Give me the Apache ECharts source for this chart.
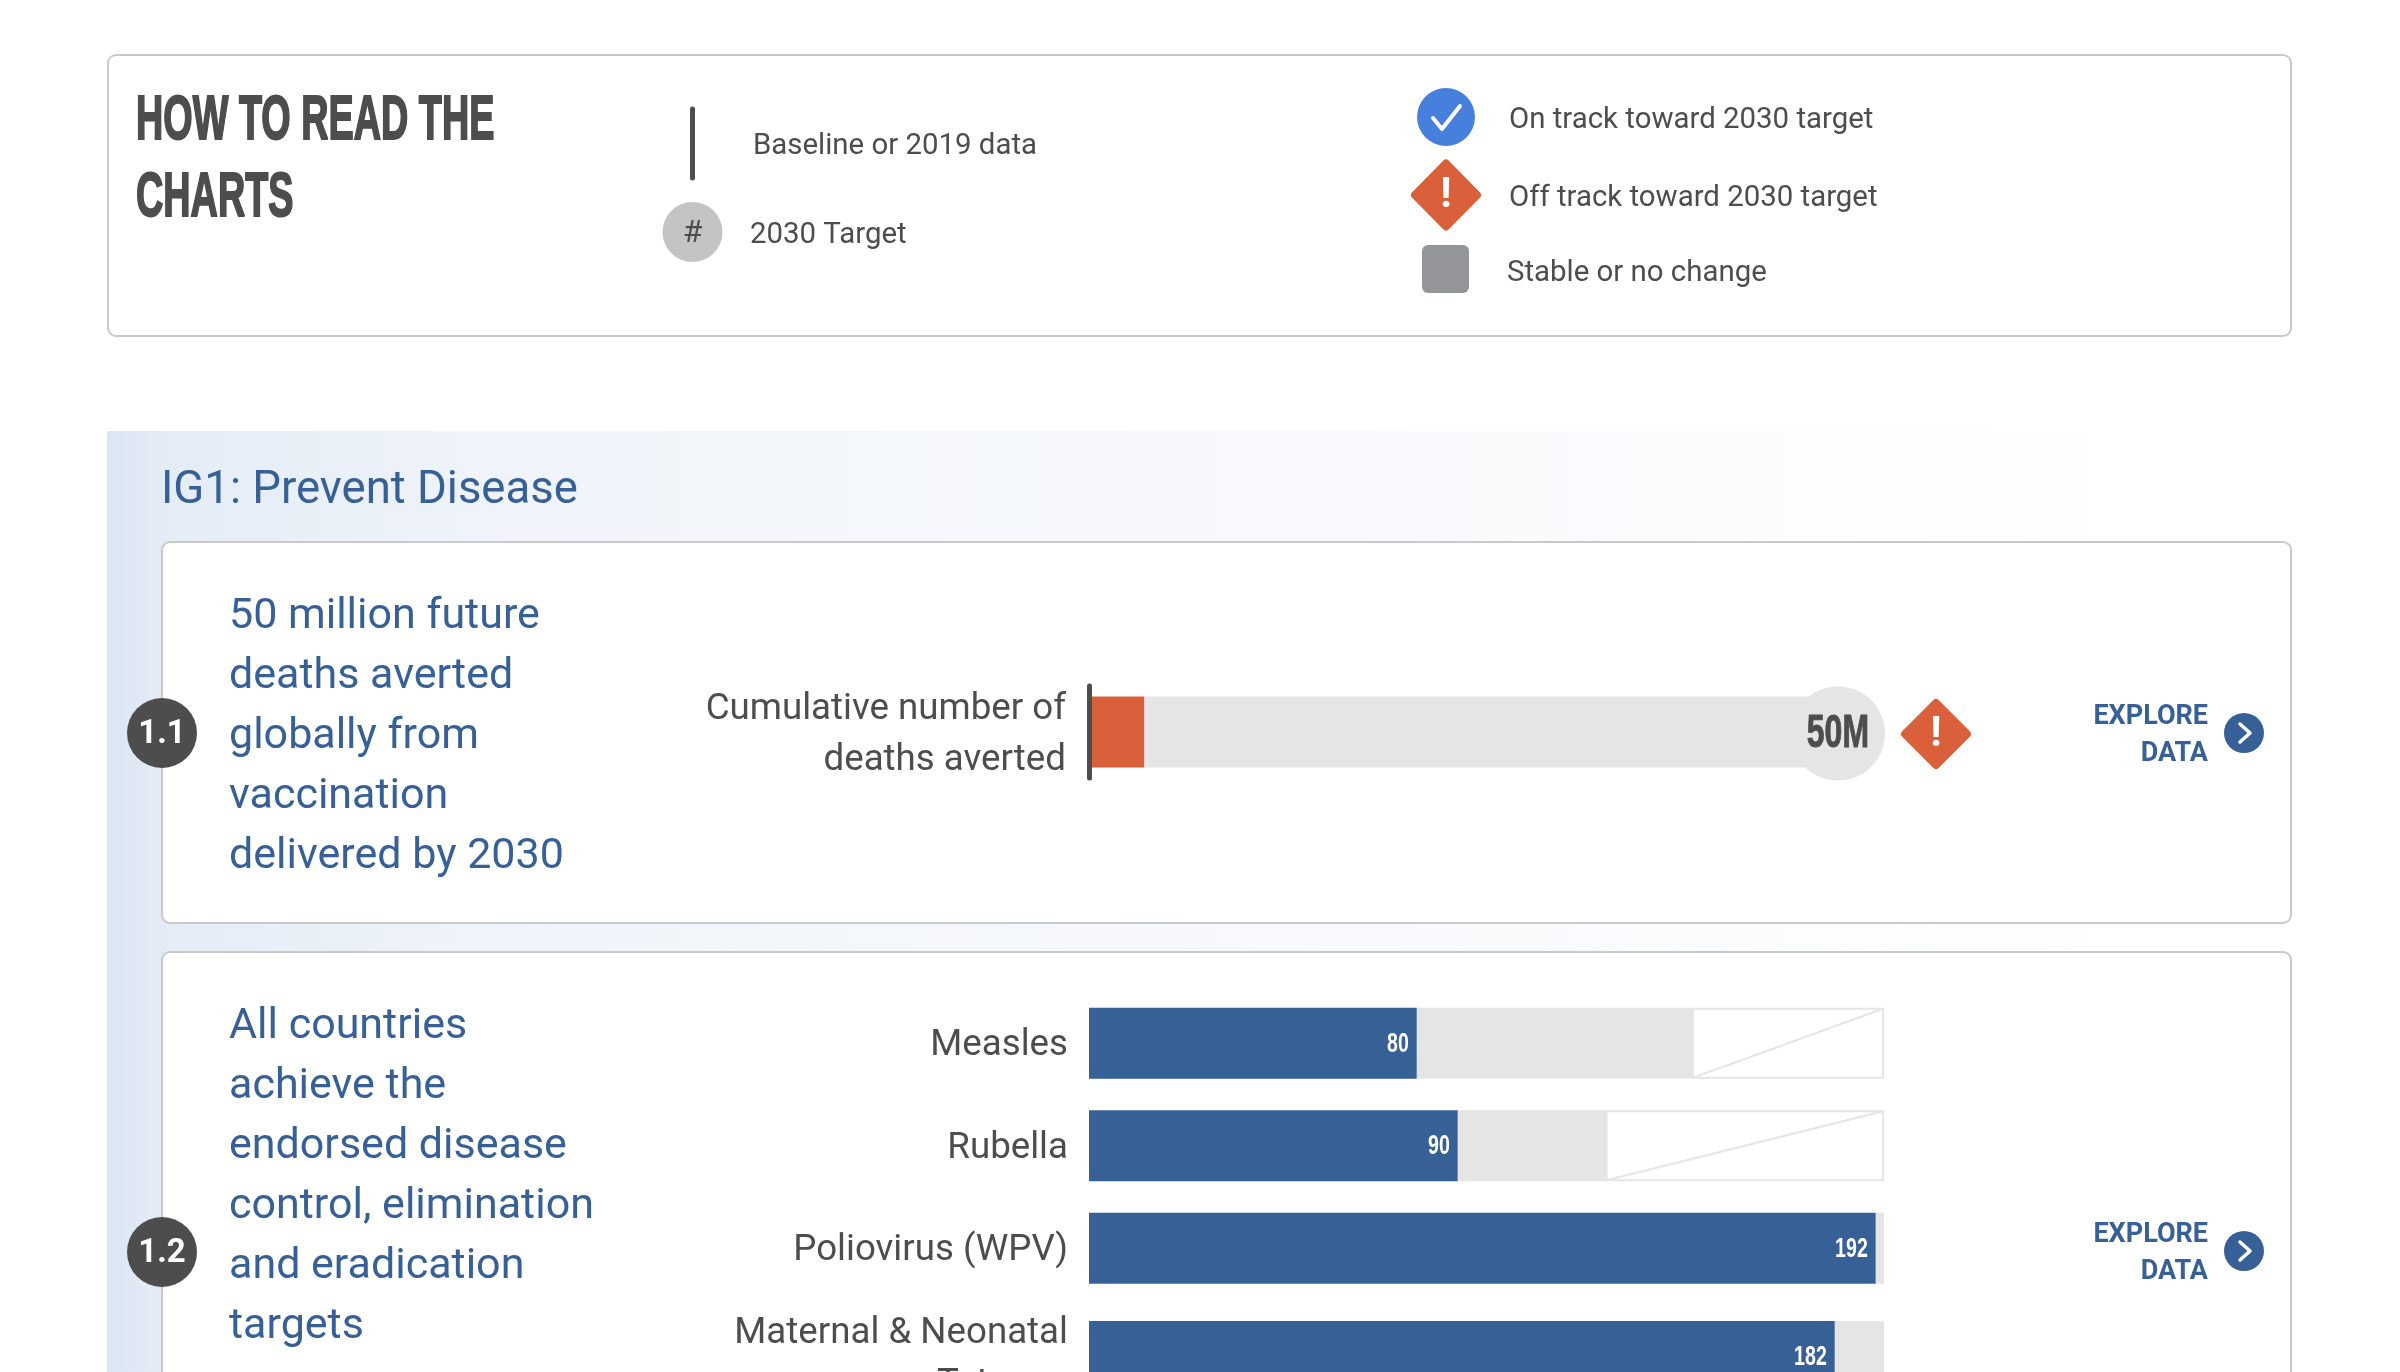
<!DOCTYPE html>
<html>
<head>
<meta charset="utf-8">
<title>How to read the charts</title>
<script src="https://cdn.jsdelivr.net/npm/echarts@6/dist/echarts.min.js"></script>
<style>
html, body { margin: 0; padding: 0; background: #fff; overflow: hidden; }
#chart { width: 2400px; height: 1372px; }
</style>
</head>
<body>
<div id="chart"></div>
<script>
// chart 1.1
var deathsLabel = ['Cumulative number of\ndeaths averted'];
var deathsAverted = [3.7];   // millions
var deathsRemaining = [46.3];
var deathsTarget = [50];
var deathsTargetLabel = ['50M'];

// chart 1.2, first three rows are evenly spaced
var diseaseNames = ['Measles', 'Rubella', 'Poliovirus (WPV)'];
var diseaseAchieved = [80, 90, 192];
var diseaseRemaining = [67.4, 36.3, 2];
var diseaseExcluded = [46.6, 67.7, 0];
// the 4th row has a two line label so it sits further down
var tetanusName = ['Maternal & Neonatal\nTetanus'];
var tetanusAchieved = [182];
var tetanusRemaining = [12];
var COUNTRY_MAX = 194;

// text blocks
var readTitle = ['HOW TO READ THE', 'CHARTS'];
var goal11 = ['50 million future', 'deaths averted', 'globally from', 'vaccination', 'delivered by 2030'];
var goal12 = ['All countries', 'achieve the', 'endorsed disease', 'control, elimination', 'and eradication', 'targets'];

var BLUE = '#366096';
var GREY = '#e5e5e5';
var DARK = '#4d4d4d';
var ORANGE = '#d9603a';
var BAR_H = 71;
var CONDENSED = '"Liberation Sans"';  // squeezed with scaleX, no condensed face installed

var chart = echarts.init(document.getElementById('chart'));

function txt(s, x, y, font, fill, align, scaleX, stroke) {
    return {
        type: 'text', x: x, y: y, scaleX: scaleX || 1, silent: true,
        style: {
            text: s, font: font, fill: fill, textAlign: align || 'left', textVerticalAlign: 'middle',
            stroke: stroke ? fill : null, lineWidth: stroke || 0
        }
    };
}
function card(x, y, w, h) {
    return {
        type: 'rect', silent: true,
        shape: { x: x, y: y, width: w, height: h, r: 8 },
        style: { fill: '#fff', stroke: '#c9c9c9', lineWidth: 2 }
    };
}
function circle(x, y, r, fill) {
    return { type: 'circle', silent: true, shape: { cx: x, cy: y, r: r }, style: { fill: fill } };
}
function diamond(x, y, w, h) {
    return [{
        type: 'polygon', silent: true,
        shape: { points: [[x, y - h], [x + w, y], [x, y + h], [x - w, y]] },
        style: { fill: ORANGE, stroke: ORANGE, lineWidth: 8, lineJoin: 'round' }
    }, txt('!', x, y + 1, 'bold 42px Roboto', '#fff', 'center')];
}
function badge(x, y, s) {
    return [circle(x, y, 35, DARK), txt(s, x, y + 2, 'bold 33px Roboto', '#fff', 'center')];
}
function explore(y) {
    return [
        txt('EXPLORE', 2208, y - 15.5, 'bold 27px Roboto', BLUE, 'right'),
        txt('DATA', 2208, y + 21.5, 'bold 27px Roboto', BLUE, 'right'),
        circle(2244, y, 20, BLUE),
        {
            type: 'polyline', silent: true,
            shape: { points: [[2240, y - 9], [2250, y], [2240, y + 9]] },
            style: { stroke: '#fff', lineWidth: 3.5, lineCap: 'round', lineJoin: 'round', fill: 'none' }
        }
    ];
}

var gfx = [];
// legend box
gfx.push(card(108, 55, 2183, 281));
gfx.push(txt(readTitle[0], 136, 122, 'bold 63px ' + CONDENSED, DARK, 'left', 0.6, 2));
gfx.push(txt(readTitle[1], 136, 199, 'bold 63px ' + CONDENSED, DARK, 'left', 0.6, 2));
gfx.push({
    type: 'line', silent: true,
    shape: { x1: 692.5, y1: 109, x2: 692.5, y2: 178 },
    style: { stroke: DARK, lineWidth: 5, lineCap: 'round' }
});
gfx.push(txt('Baseline or 2019 data', 753, 147, '29.4px Roboto', DARK));
gfx.push(circle(692.5, 232, 30, '#c4c4c4'));
gfx.push(txt('#', 692.5, 234, '32px Roboto', DARK, 'center'));
gfx.push(txt('2030 Target', 750, 236, '29.4px Roboto', DARK));
gfx.push(circle(1446, 117, 29, '#4680dc'));
gfx.push({
    type: 'polyline', silent: true,
    shape: { points: [[1433, 118], [1442, 129], [1460, 106]] },
    style: { stroke: '#fff', lineWidth: 4, lineCap: 'round', lineJoin: 'round', fill: 'none' }
});
gfx = gfx.concat(diamond(1446, 195, 31, 31.5));
gfx.push(txt('On track toward 2030 target', 1509, 121, '29.4px Roboto', DARK));
gfx.push(txt('Off track toward 2030 target', 1509, 199, '29.4px Roboto', DARK));
gfx.push({
    type: 'rect', silent: true,
    shape: { x: 1422, y: 245, width: 47, height: 48, r: 6 },
    style: { fill: '#939598' }
});
gfx.push(txt('Stable or no change', 1507, 274, '29.4px Roboto', DARK));

// IG1 section
gfx.push({
    type: 'rect', silent: true,
    shape: { x: 107, y: 431, width: 2185, height: 941 },
    style: {
        fill: new echarts.graphic.LinearGradient(0, 0, 1, 0, [
            { offset: 0, color: '#dce6f3' },
            { offset: 0.03, color: '#e4ecf6' },
            { offset: 0.18, color: '#f0f4fa' },
            { offset: 0.7, color: '#fafbfd' },
            { offset: 0.95, color: '#ffffff' }
        ])
    }
});
gfx.push(txt('IG1: Prevent Disease', 161, 492, '45.5px Roboto', BLUE));
gfx.push(card(162, 542, 2129, 381));
gfx.push(card(162, 952, 2129, 461));
goal11.forEach(function (s, i) {
    gfx.push(txt(s, 229, 617 + i * 60, '43px Roboto', BLUE));
});
goal12.forEach(function (s, i) {
    gfx.push(txt(s, 229, 1027 + i * 60, '43px Roboto', BLUE));
});
gfx = gfx.concat(badge(162, 733, '1.1'), badge(162, 1252, '1.2'));
gfx = gfx.concat(diamond(1936, 734, 31, 31));
gfx = gfx.concat(explore(733), explore(1251));

// white box with a diagonal for the part of the bar which does not apply
function renderExcluded(params, api) {
    var start = api.value(0), end = api.value(1);
    if (end <= start) { return; }
    var a = api.coord([start, api.value(2)]);
    var b = api.coord([end, api.value(2)]);
    var t = a[1] - BAR_H / 2 + 1, h = BAR_H - 2;
    return {
        type: 'group',
        children: [{
            type: 'rect',
            shape: { x: a[0], y: t, width: b[0] - a[0] - 1, height: h },
            style: { fill: '#fff', stroke: GREY, lineWidth: 2 }
        }, {
            type: 'line',
            shape: { x1: a[0], y1: t + h, x2: b[0] - 1, y2: t },
            style: { stroke: GREY, lineWidth: 2 }
        }]
    };
}

// target circle at the end of the 1.1 bar
function renderTarget(params, api) {
    var p = api.coord([api.value(0), 0]);
    return {
        type: 'group',
        children: [{
            type: 'circle',
            shape: { cx: p[0], cy: p[1] + 1.5, r: 47 },
            style: { fill: GREY }
        }, {
            type: 'text', x: p[0] + 31, y: p[1] + 2, scaleX: 0.68,
            style: {
                text: deathsTargetLabel[params.dataIndex], font: 'bold 47px ' + CONDENSED, fill: DARK,
                textAlign: 'right', textVerticalAlign: 'middle', stroke: DARK, lineWidth: 1
            }
        }]
    };
}

// white number inside the end of a blue bar
function renderValue(params, api) {
    var p = api.coord([api.value(0), api.value(1)]);
    return {
        type: 'text', x: p[0] - 8, y: p[1] + 1, scaleX: 0.7,
        style: {
            text: String(api.value(0)), font: 'bold 28px ' + CONDENSED, fill: '#fff',
            textAlign: 'right', textVerticalAlign: 'middle'
        }
    };
}

function valueAxis(grid, max) {
    return { type: 'value', gridIndex: grid, min: 0, max: max, show: false };
}
// padding only moves the text with a top/bottom anchor, so anchor at top and pull it back up
function catAxis(grid, names, margin, line, lines) {
    return {
        type: 'category', gridIndex: grid, data: names, inverse: true, z: 5,
        axisTick: { show: false },
        axisLine: line ? { show: true, lineStyle: { color: DARK, width: 5, cap: 'round' } } : { show: false },
        axisLabel: {
            margin: margin, fontFamily: 'Roboto', fontSize: 36.7, lineHeight: 51, color: DARK, align: 'right',
            verticalAlign: 'top', padding: [3 - lines * 25.5, 0, 0, 0]
        }
    };
}
function stacked(grid, values, color, stackName) {
    return {
        type: 'bar', xAxisIndex: grid, yAxisIndex: grid, stack: stackName, barWidth: BAR_H,
        data: values, itemStyle: { color: color }, silent: true
    };
}
function valueLabels(grid, values) {
    return {
        type: 'custom', xAxisIndex: grid, yAxisIndex: grid, silent: true, z: 4,
        renderItem: renderValue,
        data: values.map(function (v, i) { return [v, i]; })
    };
}

var excludedRows = diseaseExcluded.map(function (v, i) {
    var start = diseaseAchieved[i] + diseaseRemaining[i];
    return [start, start + v, i];
});

chart.setOption({
    animation: false,
    backgroundColor: '#fff',
    graphic: { elements: gfx },
    grid: [
        { left: 1089, top: 686, width: 749, height: 92, outerBoundsMode: 'none' },
        { left: 1089, top: 992, width: 795, height: 307.5, outerBoundsMode: 'none' },
        { left: 1089, top: 1321, width: 795, height: 71, outerBoundsMode: 'none' }
    ],
    xAxis: [valueAxis(0, deathsTarget[0]), valueAxis(1, COUNTRY_MAX), valueAxis(2, COUNTRY_MAX)],
    yAxis: [
        catAxis(0, deathsLabel, 23, true, 2),
        catAxis(1, diseaseNames, 21, false, 1),
        catAxis(2, tetanusName, 21, false, 2)
    ],
    series: [
        stacked(0, deathsAverted, ORANGE, 'deaths'),
        stacked(0, deathsRemaining, GREY, 'deaths'),
        {
            type: 'custom', xAxisIndex: 0, yAxisIndex: 0, silent: true, z: 3,
            renderItem: renderTarget,
            data: deathsTarget.map(function (v) { return [v]; })
        },
        stacked(1, diseaseAchieved, BLUE, 'disease'),
        stacked(1, diseaseRemaining, GREY, 'disease'),
        {
            type: 'custom', xAxisIndex: 1, yAxisIndex: 1, silent: true,
            renderItem: renderExcluded,
            encode: { x: [0, 1], y: 2 },
            data: excludedRows
        },
        valueLabels(1, diseaseAchieved),
        stacked(2, tetanusAchieved, BLUE, 'tetanus'),
        stacked(2, tetanusRemaining, GREY, 'tetanus'),
        valueLabels(2, tetanusAchieved)
    ]
});
</script>
</body>
</html>
